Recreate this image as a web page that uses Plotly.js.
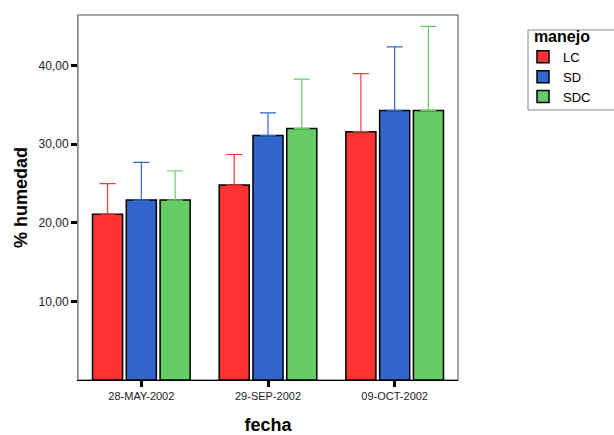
<!DOCTYPE html>
<html>
<head>
<meta charset="utf-8">
<script src="https://cdn.plot.ly/plotly-3.0.1.min.js"></script>
<style>html,body{margin:0;padding:0;background:#fff;}#chart{width:614px;height:435px;}</style>
</head>
<body>
<div id="chart"></div>
<script>
const categories = ["28-MAY-2002", "29-SEP-2002", "09-OCT-2002"];
const seriesNames = ["LC", "SD", "SDC"];
const meanLC = [21.1, 24.8, 31.6];
const meanSD = [22.9, 31.1, 34.3];
const meanSDC = [22.9, 32.0, 34.3];
const upperLC = [25.0, 28.7, 39.0];
const upperSD = [27.7, 34.0, 42.4];
const upperSDC = [26.6, 38.3, 45.0];
const yTickVals = [10, 20, 30, 40];

const colors = ["#ff3333", "#3366cc", "#66cc66"];
const means = [meanLC, meanSD, meanSDC];
const uppers = [upperLC, upperSD, upperSDC];

const traces = seriesNames.map((name, i) => ({
  type: "bar",
  name: name,
  x: categories,
  y: means[i],
  marker: {color: colors[i], line: {color: "#000", width: 1.5}},
  error_y: {
    type: "data",
    symmetric: false,
    array: uppers[i].map((u, k) => u - means[i][k]),
    arrayminus: means[i].map(() => 0),
    color: colors[i],
    thickness: 1.2,
    width: 8
  }
}));

const plotW = 614 - 78 - 156, plotH = 435 - 15 - 55;
const px = v => (v - 78) / plotW;
const py = v => (380 - v) / plotH;

const layout = {
  width: 614, height: 435,
  margin: {l: 78, r: 156, t: 15, b: 55},
  paper_bgcolor: "#fff", plot_bgcolor: "#fff",
  font: {family: "Liberation Sans, Arial, sans-serif", color: "#222"},
  separators: ",.",
  barmode: "group",
  bargap: 0.2,
  bargroupgap: 0.11,
  showlegend: true,
  legend: {
    x: px(523), y: py(21), xanchor: "left", yanchor: "top",
    borderwidth: 0, bgcolor: "rgba(0,0,0,0)",
    title: {text: "\u00a0\u00a0<b>manejo</b>", font: {size: 16, color: "#000"}},
    font: {size: 13, color: "#000"},
    tracegroupgap: 0
  },
  xaxis: {
    type: "category",
    range: [-0.5, 2.5],
    showline: true, linecolor: "#000", linewidth: 1,
    ticks: "outside", ticklen: 6, tickwidth: 3, tickcolor: "#000",
    tickfont: {size: 11, color: "#222"},
    showgrid: false, zeroline: false,
    title: {text: "<b>fecha</b>", font: {size: 18, color: "#000"}, standoff: 23}
  },
  yaxis: {
    range: [0, 46.45],
    tickvals: yTickVals,
    tickformat: ".2f",
    showline: true, linecolor: "#888", linewidth: 1,
    ticks: "outside", ticklen: 6, tickwidth: 3, tickcolor: "#000",
    tickfont: {size: 12, color: "#222"},
    showgrid: false, zeroline: false,
    title: {text: "<b>% humedad</b>", font: {size: 18, color: "#000"}, standoff: 6}
  },
  shapes: [{
    type: "rect", xref: "paper", yref: "paper", x0: 0, x1: 1, y0: 0, y1: 1,
    line: {color: "#888", width: 1.5}, fillcolor: "rgba(0,0,0,0)", layer: "below"
  }, {
    type: "rect", xref: "paper", yref: "paper", x0: px(528), x1: px(625), y0: py(30), y1: py(110),
    line: {color: "#888", width: 1}, fillcolor: "rgba(0,0,0,0)", layer: "below"
  }]
};

Plotly.newPlot("chart", traces, layout, {displayModeBar: false, staticPlot: true});
</script>
</body>
</html>
